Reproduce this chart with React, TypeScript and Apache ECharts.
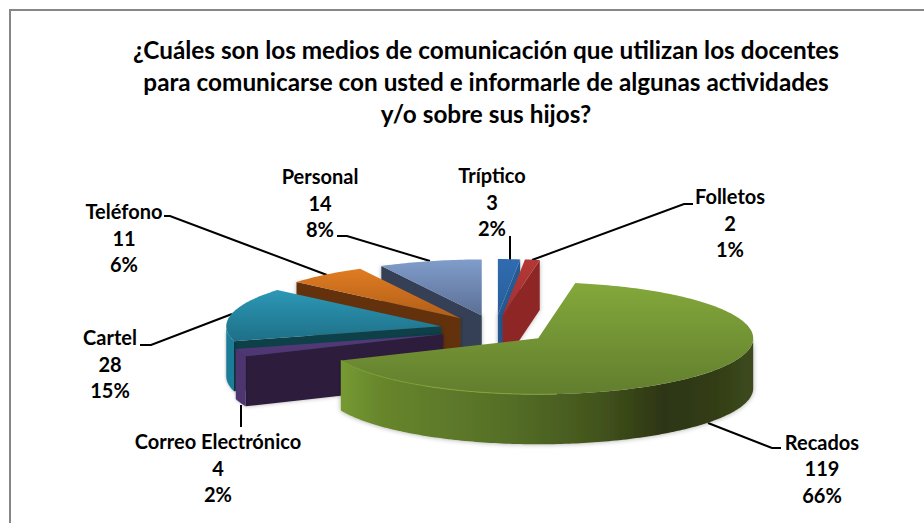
import React, { useEffect, useRef } from "react";
import * as echarts from "echarts";

const categories = ["Tríptico", "Folletos", "Recados", "Correo Electrónico", "Cartel", "Teléfono", "Personal"];
const values = [3, 2, 119, 4, 28, 11, 14];
const titleLines = [
  "¿Cuáles son los medios de comunicación que utilizan los docentes",
  "para comunicarse con usted e informarle de algunas actividades",
  "y/o sobre sus hijos?",
];

const FONT = "Lato, 'Open Sans', sans-serif";
const total = values.reduce((a, b) => a + b, 0);
const percent = values.map((v) => Math.round((v / total) * 100));

// Pie projection
const CX = 495;
const CY = 329.4;
const RX = 215;
const RY = 56;
const DEPTH = 50;
const EXPLODE = 0.256;

const rad = (d: number) => (d * Math.PI) / 180;

const styles = [
  { top: ["#2F6CB0", "#285E9A"], cut: "#275A94", rim: ["#2A5F9C", "#2A5F9C"] },
  { top: ["#B23835", "#A53230"], cut: "#8F2827", rim: ["#8F2827", "#8F2827"] },
  {
    top: ["#83A83B", "#627E2E"],
    cut: "#4C6122",
    rim: [
      [0, "#769A32"],
      [0.1, "#67852C"],
      [0.4, "#556F27"],
      [0.62, "#43551D"],
      [0.78, "#2D3612"],
      [0.9, "#313C16"],
      [1, "#3D4B1C"],
    ],
  },
  { top: ["#54397A", "#4F3672"], cut: "#2E1D3D", rim: ["#50366F", "#50366F"] },
  { top: ["#2C98B6", "#1E6F87"], cut: "#114048", rim: ["#1F7D98", "#1F7D98"] },
  { top: ["#E07C22", "#B05E18"], cut: "#64330C", rim: ["#64330C", "#64330C"] },
  { top: ["#809DCB", "#5B6F95"], cut: "#344157", rim: ["#344157", "#344157"] },
];

const labelLayout = [
  { x: 492, y: 162, line: [[510, 236], [510, 260]] },
  { x: 730, y: 183, line: [[693, 204], [684, 204], [532, 260]] },
  { x: 822, y: 428.5, line: [[781, 448], [772, 448], [708, 423]] },
  { x: 218, y: 428, line: [[241, 405], [241, 427]] },
  { x: 110, y: 324, line: [[140, 345], [151, 345], [232, 314]] },
  { x: 124, y: 198, line: [[164, 216], [170, 216], [327, 275]] },
  { x: 320, y: 163, line: [[337, 236], [347, 236], [430, 261]] },
];

// slice angles, clockwise from the top
const angles: { a: number; b: number }[] = [];
{
  let acc = 0;
  for (const v of values) {
    const a = (acc / total) * 360;
    acc += v;
    angles.push({ a, b: (acc / total) * 360 });
  }
}
const apex = angles.map(({ a, b }) => {
  const m = rad((a + b) / 2);
  return [CX + EXPLODE * RX * Math.sin(m), CY - EXPLODE * RY * Math.cos(m)];
});
const rimPoint = (i: number, th: number, dy = 0) => [
  apex[i][0] + RX * Math.sin(rad(th)),
  apex[i][1] - RY * Math.cos(rad(th)) + dy,
];
const arc = (i: number, from: number, to: number, dy = 0) => {
  const pts: number[][] = [];
  const n = Math.max(2, Math.ceil(Math.abs(to - from)));
  for (let k = 0; k <= n; k++) pts.push(rimPoint(i, from + ((to - from) * k) / n, dy));
  return pts;
};
const drawOrder = values.map((_, i) => i).sort((p, q) => apex[p][1] - apex[q][1]);

const grad = (stops: any[], horizontal: boolean) => ({
  type: "linear",
  x: 0,
  y: 0,
  x2: horizontal ? 1 : 0,
  y2: horizontal ? 0 : 1,
  colorStops:
    Array.isArray(stops[0])
      ? stops.map((s: any) => ({ offset: s[0], color: s[1] }))
      : stops.map((c: string, k: number) => ({ offset: k / (stops.length - 1), color: c })),
});

const renderItem = (_params: any, api: any) => {
  const i = api.value(0) as number;
  const { a, b } = angles[i];
  const s = styles[i];
  const children: any[] = [];
  const cutFace = (th: number, normal: number) => {
    if (Math.cos(rad(normal)) >= -0.001) return;
    const r = rimPoint(i, th);
    children.push({
      type: "polygon",
      shape: { points: [apex[i], r, [r[0], r[1] + DEPTH], [apex[i][0], apex[i][1] + DEPTH]] },
      style: { fill: s.cut, shadowBlur: 4, shadowColor: "rgba(0,0,0,0.3)" },
    });
  };
  cutFace(a, a - 90);
  cutFace(b, b + 90);
  const lo = Math.max(a, 90);
  const hi = Math.min(b, 270);
  if (hi > lo) {
    const big = hi - lo > 60;
    children.push({
      type: "polygon",
      shape: { points: [...arc(i, lo, hi), ...arc(i, hi, lo, DEPTH)] },
      style: {
        fill: grad(s.rim as any[], true),
        shadowBlur: big ? 5 : 3,
        shadowColor: "rgba(0,0,0,0.35)",
        shadowOffsetX: 0,
        shadowOffsetY: 0,
      },
    });
  }
  children.push({
    type: "polygon",
    shape: { points: [apex[i], ...arc(i, a, b)] },
    style: { fill: grad(s.top, false) },
  });
  if (hi - lo > 60) {
    children.push({
      type: "polyline",
      shape: { points: arc(i, 175, hi) },
      style: { fill: "none", stroke: "#84A63A", lineWidth: 1 },
    });
  }
  return { type: "group", children };
};

export default function App() {
  const ref = useRef<HTMLDivElement>(null);
  useEffect(() => {
    const chart = echarts.init(ref.current!, undefined, { renderer: "svg" });
    const leaders = labelLayout.map((l) => ({
      type: "polyline",
      z: 1,
      shape: { points: l.line },
      style: { fill: "none", stroke: "#000", lineWidth: 2 },
    }));
    const labels = categories.map((c, i) => ({
      type: "text",
      z: 10,
      x: labelLayout[i].x,
      y: labelLayout[i].y,
      style: {
        text: `${c}\n${values[i]}\n${percent[i]}%`,
        font: `bold 20px ${FONT}`,
        fill: "#000",
        textAlign: "center",
        textVerticalAlign: "top",
        lineHeight: 26.5,
      },
    }));
    chart.setOption({
      animation: false,
      backgroundColor: "#fff",
      title: {
        text: titleLines.join("\n"),
        left: 481,
        top: 28,
        textAlign: "center",
        textStyle: { fontFamily: FONT, fontWeight: "bold", fontSize: 24.3, lineHeight: 32, color: "#000" },
      },
      graphic: [
        {
          type: "polyline",
          z: 0,
          shape: { points: [[10, 523], [10, 10], [924, 10]] },
          style: { fill: "none", stroke: "#868686", lineWidth: 2 },
        },
        ...leaders,
        ...labels,
      ],
      series: [
        {
          type: "custom",
          coordinateSystem: "none",
          silent: true,
          z: 5,
          renderItem,
          data: drawOrder.map((i) => [i, values[i]]),
        },
      ],
    });
    return () => chart.dispose();
  }, []);
  return <div ref={ref} style={{ position: "absolute", left: 0, top: 0, width: 924, height: 523 }} />;
}
